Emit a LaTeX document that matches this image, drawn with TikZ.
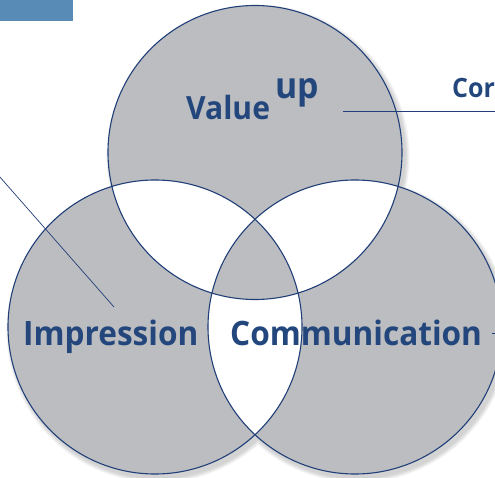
\documentclass[tikz,border=0pt]{standalone}
\usepackage{fontspec}
\setmainfont{Open Sans}[FakeStretch=0.94]
\definecolor{venngray}{HTML}{BCBDC0}
\definecolor{edgeblue}{HTML}{203F78}
\definecolor{textblue}{HTML}{23477C}
\definecolor{tabblue}{HTML}{588BB5}
\tikzset{
  venn/.style={circle, draw=edgeblue, line width=1.1pt, minimum size=294pt, inner sep=0pt},
  lbl/.style={anchor=base west, inner sep=0pt, text=textblue, font=\bfseries},
  leader/.style={draw=edgeblue, line width=0.7pt},
}
\begin{document}
\begin{tikzpicture}[x=1pt,y=-1pt]
\useasboundingbox (0,0) rectangle (495,478);
\clip (0,0) rectangle (495,478);
% tab
\fill[tabblue] (0,0) rectangle (73,21);
% soft shadow
\foreach \i in {1,...,8}{
  \fill[black, opacity=0.025] (258,156.5) circle ({147+\i*0.6})
                              (158,331) circle ({147+\i*0.6})
                              (358,331) circle ({147+\i*0.6});
}
% fills
\fill[white] (255,152.5) circle (147) (155,327) circle (147) (355,327) circle (147);
\fill[venngray, even odd rule] (255,152.5) circle (147) (155,327) circle (147) (355,327) circle (147);
% circles
\node[venn] (topc) at (255,152.5) {};
\node[venn] (leftc) at (155,327) {};
\node[venn] (rightc) at (355,327) {};
% labels
\node[lbl, font=\bfseries\fontsize{32}{32}\selectfont] (value) at (186,120) {Value};
\node[lbl, font=\bfseries\fontsize{36}{36}\selectfont] (up) at (275,99) {up};
\node[lbl, font=\bfseries\fontsize{33.6}{33.6}\selectfont] (impr) at (23,345) {Impression};
\node[lbl, font=\bfseries\fontsize{33.6}{33.6}\selectfont] (comm) at (230,345) {Communication};
\node[lbl, font=\bfseries\fontsize{26.6}{26.6}\selectfont] (core) at (452,98) {Core};
% leaders
\coordinate (v1) at (343,111.5);
\coordinate (v2) at (496,111.5);
\draw[leader] (v1) -- (v2);
\coordinate (i1) at (-1,176);
\coordinate (i2) at (114,307);
\draw[leader] (i1) -- (i2);
\coordinate (c1) at (492,333);
\coordinate (c2) at (496,333);
\draw[leader] (c1) -- (c2);
\end{tikzpicture}
\end{document}
